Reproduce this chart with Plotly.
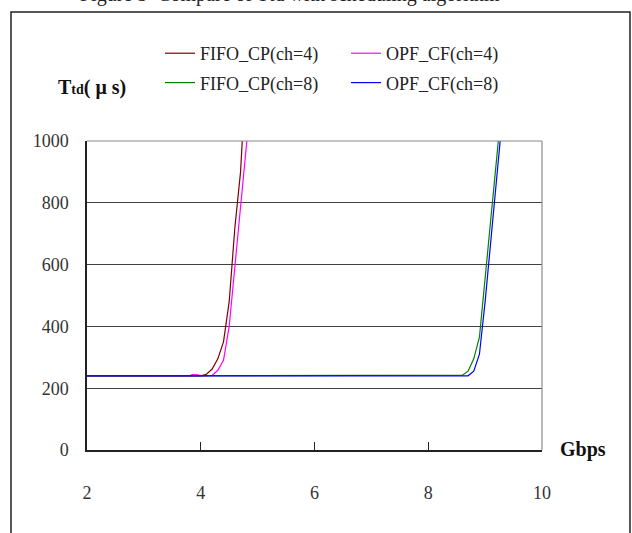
import plotly.graph_objects as go

# Throughput (Gbps) vs. delay Ttd (microseconds) for each scheduler / channel count
fifo_ch4_x = [2, 3, 3.5, 4.0, 4.1, 4.2, 4.3, 4.4, 4.5, 4.6, 4.7, 4.8]
fifo_ch4_y = [240, 240, 240, 240, 245, 262, 295, 350, 480, 720, 900, 1233]

opf_ch4_x = [2, 3, 3.5, 3.8, 3.85, 3.95, 4.0, 4.2, 4.3, 4.4, 4.5, 4.6, 4.7, 4.8, 4.9]
opf_ch4_y = [240, 240, 240, 240, 244, 243, 240, 241, 258, 290, 400, 600, 800, 980, 1160]

fifo_ch8_x = [2, 4, 6, 8, 8.5, 8.6, 8.7, 8.8, 8.9, 9.0, 9.1, 9.2, 9.3]
fifo_ch8_y = [240, 240, 240, 240, 240, 242, 255, 295, 365, 560, 760, 945, 1130]

opf_ch8_x = [2, 4, 6, 8, 8.5, 8.7, 8.8, 8.9, 9.0, 9.1, 9.2, 9.3]
opf_ch8_y = [240, 240, 240, 240, 240, 240, 255, 310, 480, 670, 875, 1070]

series_names = ["FIFO_CP(ch=4)", "OPF_CF(ch=4)", "FIFO_CP(ch=8)", "OPF_CF(ch=8)"]
series_colors = ["#800000", "#FF00FF", "#008000", "#0000FF"]

x_ticks = [2, 4, 6, 8, 10]
y_ticks = [0, 200, 400, 600, 800, 1000]

W, H = 632, 533
L, R, T, B = 87, 90, 141, 83
PW, PH = W - L - R, H - T - B


def px_x(px):
    return (px - L) / PW


def px_y(py):
    return (H - B - py) / PH


SERIF = "Liberation Serif, Times New Roman, serif"

fig = go.Figure()
data = [
    (fifo_ch4_x, fifo_ch4_y, "legend"),
    (opf_ch4_x, opf_ch4_y, "legend2"),
    (fifo_ch8_x, fifo_ch8_y, "legend"),
    (opf_ch8_x, opf_ch8_y, "legend2"),
]
for (xs, ys, lg), name, col in zip(data, series_names, series_colors):
    fig.add_trace(go.Scatter(
        x=xs, y=ys, mode="lines", name=name, legend=lg, legendgroup=name,
        line=dict(color=col, width=1.2),
    ))

legend_common = dict(
    orientation="v", xanchor="left", yanchor="top",
    font=dict(family=SERIF, size=18, color="#222"),
    bgcolor="rgba(0,0,0,0)", tracegroupgap=3, traceorder="grouped",
)

fig.update_layout(
    width=W, height=H,
    margin=dict(l=L, r=R, t=T, b=B),
    paper_bgcolor="white", plot_bgcolor="white",
    showlegend=True,
    legend=dict(x=px_x(160), y=px_y(35), **legend_common),
    legend2=dict(x=px_x(346), y=px_y(35), **legend_common),
    xaxis=dict(
        range=[2, 10], tickvals=x_ticks, ticktext=[str(v) for v in x_ticks],
        showgrid=False, zeroline=False, showline=True, linecolor="#222", linewidth=1.5,
        ticks="inside", ticklen=8, tickcolor="#222", tickwidth=1,
        ticklabelstandoff=26,
        tickfont=dict(family=SERIF, size=18, color="#333"),
    ),
    yaxis=dict(
        range=[0, 1000], tickvals=y_ticks, ticktext=[str(v) for v in y_ticks],
        showgrid=True, gridcolor="#404040", gridwidth=1,
        zeroline=False, showline=True, linecolor="#222", linewidth=1.5,
        ticks="", ticklabelstandoff=13,
        tickfont=dict(family=SERIF, size=18, color="#333"),
    ),
    shapes=[
        # grey top and right borders of the plotting area
        dict(type="line", xref="paper", yref="paper", x0=0, x1=1, y0=1, y1=1,
             line=dict(color="#8a8a8a", width=1.2), layer="above"),
        dict(type="line", xref="paper", yref="paper", x0=1, x1=1, y0=0, y1=1,
             line=dict(color="#8a8a8a", width=1.2), layer="above"),
        # outer frame around the figure
        dict(type="rect", xref="paper", yref="paper",
             x0=px_x(11), x1=px_x(630), y0=px_y(560), y1=px_y(12),
             line=dict(color="#222", width=1.5), fillcolor="rgba(0,0,0,0)"),
    ],
    annotations=[
        dict(text="<b>T<span style='font-size:14px'>td</span>( μ s)</b>",
             xref="paper", yref="paper", x=px_x(92), y=px_y(88),
             xanchor="center", yanchor="middle", showarrow=False,
             font=dict(family=SERIF, size=20, color="#111")),
        dict(text="<b>Gbps</b>", xref="paper", yref="paper", x=px_x(583), y=px_y(449),
             xanchor="center", yanchor="middle", showarrow=False,
             font=dict(family=SERIF, size=20, color="#111")),
        dict(text="Figure 5  Compare of Ttd with scheduling algorithm",
             xref="paper", yref="paper", x=px_x(290), y=px_y(-6),
             xanchor="center", yanchor="middle", showarrow=False,
             font=dict(family=SERIF, size=20, color="#222")),
    ],
)

fig.write_html("out.html")
